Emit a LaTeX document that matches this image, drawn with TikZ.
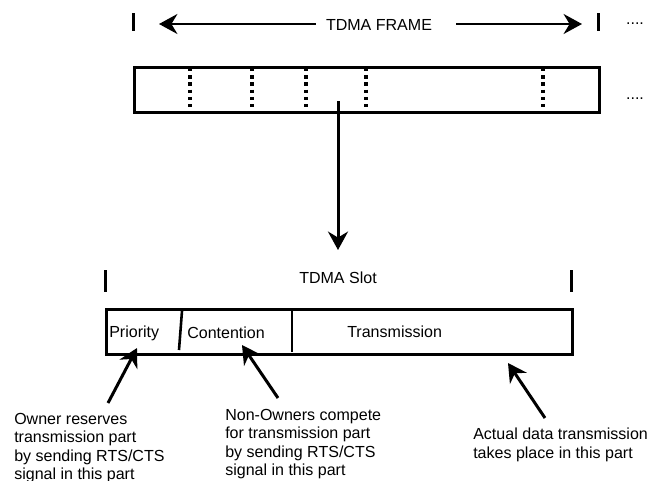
\documentclass[tikz,border=0pt]{standalone}
\usepackage{fontspec}
\setmainfont{Liberation Sans}
\usetikzlibrary{positioning, arrows.meta}

\begin{document}
\begin{tikzpicture}[
    x=0.25mm, y=-0.25mm,
    every node/.style={font=\fontsize{11.4}{13.1}\selectfont, inner sep=0pt},
    bar/.style={draw, line width=0.65mm, minimum height=11.25mm},
    tick/.style={line width=0.75mm},
    slotline/.style={line width=0.8mm, dash pattern=on 0.85mm off 0.95mm},
    arr/.style={-{Stealth[length=4.6mm, width=5mm]}, line width=0.75mm},
    note/.style={align=left, anchor=north west}
  ]
    \useasboundingbox (0,0) rectangle (661,481);

    \node[anchor=base] (frame) at (379,30) {TDMA FRAME};
    \coordinate (fl) at (159,24);
    \coordinate (fr) at (582,24);
    \draw[arr, line width=0.55mm, shorten <=2.5mm] (frame.west |- fl) -- (fl);
    \draw[arr, line width=0.55mm, shorten <=6mm] (frame.east |- fr) -- (fr);
    \draw[tick] (133,13) -- (133,31);
    \draw[tick] (598,13) -- (598,31);
    \node (more1) at (635,24) {....};

    \node[bar, anchor=north west, minimum width=116.25mm] (tdma) at (133,66) {};
    \foreach \x in {190,252,306,366,543}
      \draw[slotline] (\x,68) -- (\x,108);
    \node (more2) at (635,99) {....};

    \coordinate (pick) at (338,101);
    \coordinate (zoomed) at (338,250);
    \draw[arr] (pick) -- (zoomed);

    \draw[tick] (105,270) -- (105,292);
    \draw[tick] (571,270) -- (571,292);
    \node[anchor=base] (slot) at (338,283) {TDMA Slot};

    \node[bar, anchor=north west, minimum width=116.5mm] (slotbox) at (105,308) {};
    \draw[line width=0.65mm] (182,311) -- (179,350);
    \draw[line width=0.65mm] (292,308) -- (292,352);
    \node[anchor=base west] (prio) at (109,337) {Priority};
    \node[anchor=base west] (cont) at (187,338) {Contention};
    \node[anchor=base west] (trans) at (347,337) {Transmission};

    \coordinate (ptip) at (137,348);
    \coordinate (ptail) at (108,403);
    \coordinate (ctip) at (242,345);
    \coordinate (ctail) at (278,398);
    \coordinate (ttip) at (508,363);
    \coordinate (ttail) at (545,418);
    \draw[arr] (ptail) -- (ptip);
    \draw[arr] (ctail) -- (ctip);
    \draw[arr] (ttail) -- (ttip);

    \node[note] (owner) at (14,413)
      {Owner reserves\\transmission part\\by sending RTS/CTS\\signal in this part};
    \node[note] (others) at (225,409)
      {Non-Owners compete\\for transmission part\\by sending RTS/CTS\\signal in this part};
    \node[note] (actual) at (473,428)
      {Actual data transmission\\takes place in this part};
  \end{tikzpicture}
\end{document}
